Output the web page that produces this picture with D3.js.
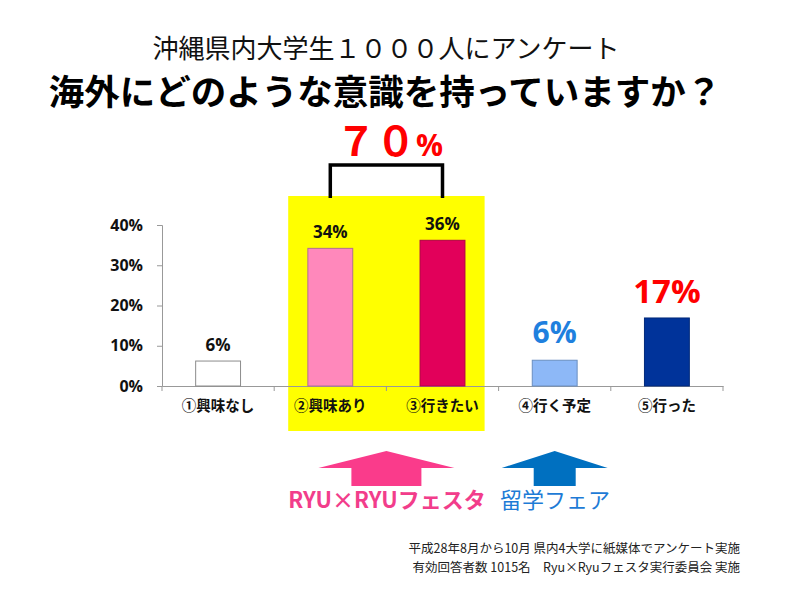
<!DOCTYPE html>
<html>
<head>
<meta charset="utf-8">
<script src="https://cdn.jsdelivr.net/npm/d3@7"></script>
<style>
    body { margin: 0; background: #fff; }
    svg { display: block; font-family: "Noto Sans CJK JP", "Noto Sans", sans-serif; }
</style>
</head>
<body>
<svg id="chart" width="789" height="591"></svg>
<script>
// data
var categories = ['①興味なし', '②興味あり', '③行きたい', '④行く予定', '⑤行った'];
var values = [6.2, 34.2, 36.2, 6.4, 16.9];
var valueLabels = ['6%', '34%', '36%', '6%', '17%'];
var yTicks = [0, 10, 20, 30, 40];
var totalLabel = '７０';
var titleLines = ['沖縄県内大学生１０００人にアンケート', '海外にどのような意識を持っていますか？'];
var arrowLabels = ['RYU×RYUフェスタ', '留学フェア'];
var footerLines = ['平成28年8月から10月 県内4大学に紙媒体でアンケート実施',
    '有効回答者数 1015名　Ryu×Ryuフェスタ実行委員会 実施'];

// styles
var barColors = ['#ffffff', '#ff88bb', '#e2005a', '#8db8f7', '#00339a'];
var barStrokes = ['#8c8c8c', '#b07090', '#b00048', '#6a8fc0', '#00297a'];

var svg = d3.select('#chart');

var x = d3.scaleBand()
    .domain(categories)
    .range([162, 723])
    .paddingInner(0.6)
    .paddingOuter(0.3);
var band = d3.scaleBand().domain(categories).range([162, 723]);
var y = d3.scaleLinear().domain([0, 40]).range([386, 225]);

function center(c) { return band(c) + band.bandwidth() / 2; }

// yellow highlight behind bars 2 and 3
svg.append('rect')
    .attr('x', band(categories[1]) + 14)
    .attr('y', 196)
    .attr('width', band(categories[2]) + band.bandwidth() - 14 - (band(categories[1]) + 14))
    .attr('height', 235)
    .attr('fill', '#ffff00');

// titles
svg.append('text')
    .attr('x', 386).attr('y', 58)
    .attr('text-anchor', 'middle')
    .style('font-size', '26px')
    .attr('fill', '#111')
    .text(titleLines[0]);
svg.append('text')
    .attr('x', 385).attr('y', 105)
    .attr('text-anchor', 'middle')
    .style('font-size', '35.5px')
    .style('font-weight', 'bold')
    .attr('fill', '#000')
    .text(titleLines[1]);

// axes
var yAxis = svg.append('g')
    .attr('transform', 'translate(162,0)')
    .call(d3.axisLeft(y).tickValues(yTicks).tickSize(5).tickFormat(function(d) { return d + '%'; }));
yAxis.selectAll('text')
    .attr('x', -19)
    .style('font-size', '16px')
    .style('font-weight', 'bold')
    .style('font-family', '"Open Sans", sans-serif')
    .attr('fill', '#111');

var xAxis = svg.append('g')
    .attr('transform', 'translate(0,386)')
    .call(d3.axisBottom(band).tickSize(0).tickSizeOuter(0));
xAxis.selectAll('text')
    .attr('dy', '1.55em')
    .style('font-size', '14.5px')
    .style('font-weight', 'bold')
    .style('font-family', '"Noto Sans CJK JP", sans-serif')
    .attr('fill', '#111');
// boundary ticks between categories
xAxis.selectAll('.bound')
    .data(categories.concat(['end']))
    .enter().append('line')
    .attr('x1', function(d, i) { return i < categories.length ? band(d) : band.range()[1]; })
    .attr('x2', function(d, i) { return i < categories.length ? band(d) : band.range()[1]; })
    .attr('y1', 0).attr('y2', 5)
    .attr('stroke', '#999');
svg.selectAll('.domain').attr('stroke', '#999');
svg.selectAll('.tick line').attr('stroke', '#999');

// bars
svg.append('g').selectAll('rect')
    .data(values)
    .enter().append('rect')
    .attr('x', function(d, i) { return x(categories[i]); })
    .attr('width', x.bandwidth())
    .attr('y', function(d) { return y(d); })
    .attr('height', function(d) { return y(0) - y(d); })
    .attr('fill', function(d, i) { return barColors[i]; })
    .attr('stroke', function(d, i) { return barStrokes[i]; })
    .attr('stroke-width', 1);

// value labels
var labelStyle = [
    { size: 17, color: '#111', gap: 10 },
    { size: 17, color: '#111', gap: 10 },
    { size: 17, color: '#111', gap: 10 },
    { size: 30, color: '#1f80de', gap: 17 },
    { size: 33, color: '#ff0000', gap: 15 }
];
svg.append('g').selectAll('text')
    .data(values)
    .enter().append('text')
    .attr('x', function(d, i) { return center(categories[i]); })
    .attr('y', function(d, i) { return y(d) - labelStyle[i].gap; })
    .attr('text-anchor', 'middle')
    .style('font-family', '"Open Sans", sans-serif')
    .style('font-weight', 'bold')
    .style('font-size', function(d, i) { return labelStyle[i].size + 'px'; })
    .attr('fill', function(d, i) { return labelStyle[i].color; })
    .text(function(d, i) { return valueLabels[i]; });

// bracket joining bars 2 and 3
var bx1 = center(categories[1]), bx2 = center(categories[2]);
svg.append('path')
    .attr('d', 'M' + bx1 + ',198V165H' + bx2 + 'V198')
    .attr('fill', 'none')
    .attr('stroke', '#000')
    .attr('stroke-width', 3.5);
var total = svg.append('text')
    .attr('x', (bx1 + bx2) / 2 + 3).attr('y', 156)
    .attr('text-anchor', 'middle')
    .style('font-weight', 'bold')
    .style('font-size', '40px')
    .attr('fill', '#ff0000')
    .text(totalLabel);
total.append('tspan')
    .style('font-size', '30px')
    .style('font-family', '"Open Sans", sans-serif')
    .text('%');

// arrows
function arrow(cx, headW, shaftW, color) {
    var top = 451, neck = 468, bottom = 486;
    var p = d3.path();
    p.moveTo(cx, top);
    p.lineTo(cx + headW / 2, neck);
    p.lineTo(cx + shaftW / 2, neck);
    p.lineTo(cx + shaftW / 2, bottom);
    p.lineTo(cx - shaftW / 2, bottom);
    p.lineTo(cx - shaftW / 2, neck);
    p.lineTo(cx - headW / 2, neck);
    p.closePath();
    svg.append('path').attr('d', p.toString()).attr('fill', color);
}
arrow(band(categories[2]), 136, 70, '#fa3b8b');
arrow(center(categories[3]), 106, 42, '#0070c0');

svg.append('text')
    .attr('x', 387).attr('y', 508)
    .attr('text-anchor', 'middle')
    .style('font-size', '22px')
    .style('font-weight', 'bold')
    .attr('fill', '#f23d8b')
    .text(arrowLabels[0]);
svg.append('text')
    .attr('x', 555).attr('y', 508)
    .attr('text-anchor', 'middle')
    .style('font-size', '22px')
    .attr('fill', '#1e7bd6')
    .text(arrowLabels[1]);

// footer
svg.append('g').selectAll('text')
    .data(footerLines)
    .enter().append('text')
    .attr('x', 740)
    .attr('y', function(d, i) { return 553 + i * 18.5; })
    .attr('text-anchor', 'end')
    .style('font-size', '12.5px')
    .attr('fill', '#222')
    .text(function(d) { return d; });
</script>
</body>
</html>
